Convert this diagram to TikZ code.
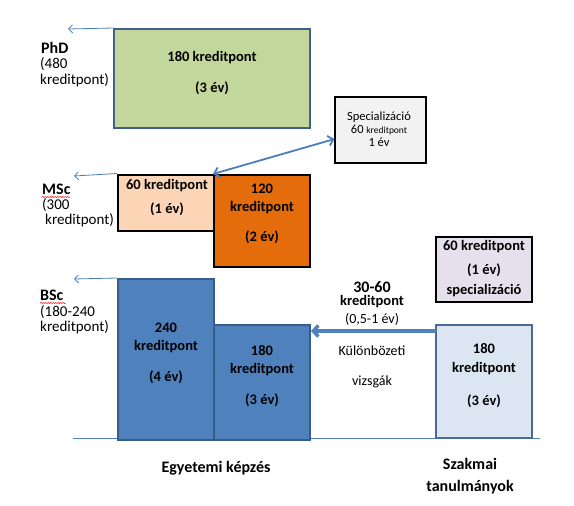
\documentclass[tikz,border=0pt]{standalone}
\usepackage{fontspec}
\setmainfont{Carlito}
\usetikzlibrary{arrows.meta,decorations.pathmorphing}
\definecolor{phdfill}{HTML}{C3D69B}
\definecolor{phdline}{HTML}{3F5F8C}
\definecolor{peach}{HTML}{FBD5B5}
\definecolor{orng}{HTML}{E46C0A}
\definecolor{bscfill}{HTML}{4F81BD}
\definecolor{bscline}{HTML}{385D8A}
\definecolor{lightblue}{HTML}{DCE6F2}
\definecolor{lightline}{HTML}{4A6A98}
\definecolor{lilac}{HTML}{E6E0EC}
\definecolor{specfill}{HTML}{F2F2F2}
\definecolor{arrowblue}{HTML}{4A7EBB}
\begin{document}
\begin{tikzpicture}[x=1pt,y=-1pt,
  box/.style={draw, line width=2pt, minimum width=#1, inner sep=0pt},
  txt/.style={font=\fontsize{14}{16}\selectfont, inner sep=0pt, align=center},
  btxt/.style={font=\bfseries\fontsize{14.5}{16}\selectfont, inner sep=0pt, align=center},
  captxt/.style={font=\bfseries\fontsize{16}{18}\selectfont, inner sep=0pt, align=center},
  lbl/.style={font=\fontsize{15}{16}\selectfont, inner sep=0pt, align=left, anchor=west},
  thin arrow/.style={draw=arrowblue, line width=0.8pt, -{Straight Barb[length=4pt,width=8pt]}},
  squiggle/.style={draw=red, line width=0.5pt, decorate, decoration={snake, amplitude=0.6pt, segment length=2.5pt}}
]
\useasboundingbox (0,0) rectangle (574,506);

% ---- baseline ----
\coordinate (baseL) at (73,438);
\coordinate (baseR) at (540,438);
\draw[draw=bscfill, line width=1pt] (baseL) -- (baseR);

% ---- PhD ----
\node[box=196pt, minimum height=99pt, fill=phdfill, draw=phdline] (phd) at (212,78.5) {};
\node[btxt] (phdA) at (212,58) {180 kreditpont};
\node[btxt] (phdB) at (212,88) {(3 év)};
\coordinate (phdArr) at (68,29);
\draw[thin arrow] (phd.north west) -- (phdArr);
\node[lbl, font=\bfseries\fontsize{16}{16}\selectfont] (phdL1) at (41,48) {PhD};
\node[lbl] (phdL2) at (40,64) {(480};
\node[lbl] (phdL3) at (40,80) {kreditpont)};

% ---- MSc ----
\node[box=96pt, minimum height=56pt, fill=peach] (msc1) at (166,202.5) {};
\node[box=96pt, minimum height=92pt, fill=orng] (msc2) at (262,221) {};
\node[btxt] (msc1A) at (167,186) {60 kreditpont};
\node[btxt] (msc1B) at (167,209) {(1 év)};
\node[btxt] (msc2A) at (262,189) {120};
\node[btxt] (msc2B) at (262,208) {kreditpont};
\node[btxt] (msc2C) at (262,237) {(2 év)};
\coordinate (mscArr) at (74,176);
\draw[thin arrow] (msc1.north west) -- (mscArr);
\node[lbl, font=\bfseries\fontsize{16}{16}\selectfont] (mscL1) at (42,189) {MSc};
\node[lbl] (mscL2) at (42,205) {(300};
\node[lbl] (mscL3) at (45,220) {kreditpont)};
\draw[squiggle] (42,197) -- (70,197);

% ---- Specializáció ----
\node[box=91pt, minimum height=66pt, fill=specfill] (spec) at (380.5,130) {};
\node[txt, font=\fontsize{12.5}{13}\selectfont] (specA) at (379,117) {Specializáció};
\node[txt, font=\fontsize{12.5}{13}\selectfont] (specB) at (379,130) {60 {\fontsize{9.5}{10}\selectfont kreditpont}};
\node[txt, font=\fontsize{12.5}{13}\selectfont] (specC) at (379,142) {1 év};
\coordinate (specIn) at (334.5,139);
\draw[draw=arrowblue, line width=1.8pt, {Straight Barb[length=5pt,width=10pt]}-{Straight Barb[length=5pt,width=10pt]}] (msc2.north west) -- (specIn);

% ---- BSc ----
\node[box=96pt, minimum height=161pt, fill=bscfill, draw=bscline] (bsc1) at (166,359.5) {};
\node[box=96pt, minimum height=115pt, fill=bscfill, draw=bscline] (bsc2) at (262,382.5) {};
\node[btxt] (bsc1A) at (166,328) {240};
\node[btxt] (bsc1B) at (166,347) {kreditpont};
\node[btxt] (bsc1C) at (166,377) {(4 év)};
\node[btxt] (bsc2A) at (262,351) {180};
\node[btxt] (bsc2B) at (262,370) {kreditpont};
\node[btxt] (bsc2C) at (262,400) {(3 év)};
\coordinate (bscArr) at (74,279);
\draw[thin arrow] (bsc1.north west) -- (bscArr);
\node[lbl, font=\bfseries\fontsize{16}{16}\selectfont] (bscL1) at (40,295) {BSc};
\node[lbl] (bscL2) at (40,312) {(180-240};
\node[lbl] (bscL3) at (40,327) {kreditpont)};
\draw[squiggle] (40,303) -- (66,303);

% ---- Szakmai ----
\node[box=96pt, minimum height=113pt, fill=lightblue, draw=lightline] (szak) at (484,381.5) {};
\node[btxt] (szakA) at (484,349) {180};
\node[btxt] (szakB) at (484,369) {kreditpont};
\node[btxt] (szakC) at (484,401) {(3 év)};
\node[box=96pt, minimum height=65pt, fill=lilac] (spec2) at (484,269.5) {};
\node[btxt] (spec2A) at (484,247) {60 kreditpont};
\node[btxt] (spec2B) at (484,270) {(1 év)};
\node[btxt] (spec2C) at (484,291) {specializáció};

% ---- thick arrow ----
\coordinate (thickStart) at (436,331);
\coordinate (thickEnd) at (311,331);
\draw[draw=bscfill, line width=3.5pt, -{Straight Barb[length=5pt,width=11pt]}] (thickStart) -- (thickEnd);
\node[captxt] (midA) at (372,287) {30-60};
\node[btxt] (midB) at (372,302) {kreditpont};
\node[txt] (midC) at (372,319) {(0,5-1 év)};
\node[txt] (midD) at (372,351) {Különbözeti};
\node[txt] (midE) at (372,382) {vizsgák};

% ---- bottom captions ----
\node[captxt] (egy) at (216,468) {Egyetemi képzés};
\node[captxt] (szk1) at (470,464) {Szakmai};
\node[captxt] (szk2) at (470,487) {tanulmányok};
\end{tikzpicture}
\end{document}
